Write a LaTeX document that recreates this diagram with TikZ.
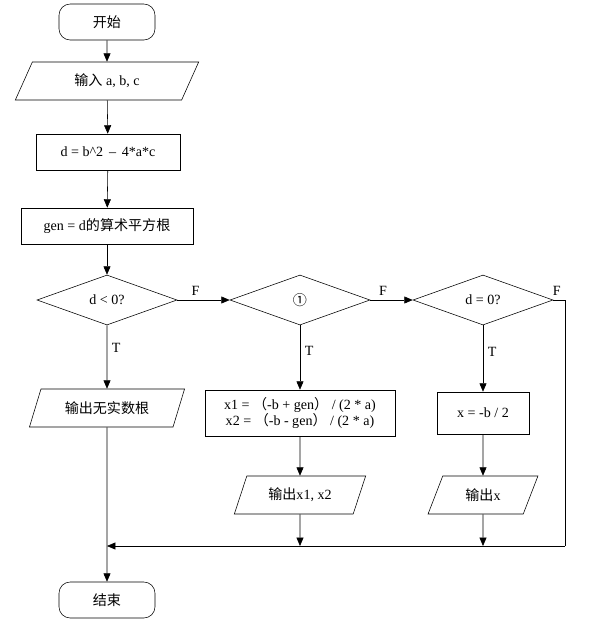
\documentclass[tikz,border=0pt]{standalone}
\usepackage{fontspec}
\setmainfont{Liberation Serif}
\newfontfamily\cjk{Noto Sans CJK SC}
\usetikzlibrary{shapes.geometric, arrows.meta}

\tikzset{
    term/.style={draw, rounded corners=8pt, minimum width=2.4cm, minimum height=0.9cm},
    io/.style={draw, trapezium, trapezium left angle=70, trapezium right angle=110,
        trapezium stretches=true, minimum height=0.95cm},
    proc/.style={draw, minimum height=0.9cm, inner sep=4pt},
    dec/.style={draw, diamond, aspect=2.8, minimum width=3.5cm, minimum height=1.25cm, inner sep=0pt},
    flow/.style={-{Triangle[length=6pt,width=5pt]}}
}

\begin{document}
\begin{tikzpicture}[x=0.025cm, y=-0.025cm, font=\normalsize]
    \useasboundingbox (0,0) rectangle (602,621);

    % Left column
    \node[term] (start) at (107,22) {\cjk 开始};
    \node[io, minimum width=4.6cm] (input) at (107,81) {{\cjk 输入} a, b, c};
    \node[proc, minimum width=3.6cm] (disc) at (108,152) {d = b\^{}2 \,--\, 4*a*c};
    \node[proc, minimum width=4.3cm] (root) at (107,226) {gen = d{\cjk 的算术平方根}};
    \node[dec] (neg) at (107,300) {d < 0?};
    \node[io, minimum width=3.9cm] (none) at (107,408) {\cjk 输出无实数根};
    \node[term] (stop) at (107,600) {\cjk 结束};

    % Middle column
    \node[dec] (mark) at (300,300) {\cjk ①};
    \node[proc, minimum width=4.75cm, minimum height=1.15cm, align=center] (two) at (300,413)
        {x1 = {\cjk （}-b + gen{\cjk ）} / (2 * a)\\ x2 = {\cjk （}-b - gen{\cjk ）} / (2 * a)};
    \node[io, minimum width=3.3cm] (outtwo) at (300,495) {{\cjk 输出}x1, x2};

    % Right column
    \node[dec] (zero) at (483,300) {d = 0?};
    \node[proc, minimum width=2.3cm, minimum height=1.05cm] (one) at (483,413) {x = -b / 2};
    \node[io, minimum width=2.75cm] (outone) at (483,495) {{\cjk 输出}x};

    % Merge points
    \coordinate (join) at (107,546);
    \coordinate (corner) at (565,300);

    % Connectors
    \draw[flow] (start) -- (input);
    \draw[flow] (input) -- (disc);
    \draw[flow] (disc) -- (root);
    \draw[flow] (root) -- (neg);
    \draw[flow] (neg) -- node[pos=0.35, right] {T} (none);
    \draw[flow] (neg) -- node[pos=0.35, above] {F} (mark);
    \draw[flow] (mark) -- node[pos=0.4, right] {T} (two);
    \draw[flow] (mark) -- node[pos=0.3, above] {F} (zero);
    \draw[flow] (zero) -- node[pos=0.4, right] {T} (one);
    \draw[flow] (two) -- (outtwo);
    \draw[flow] (one) -- (outone);
    \draw (zero.east) -- node[pos=0.3, above] {F} (corner) -- (corner |- join);
    \draw[flow] (corner |- join) -- (join);
    \draw[flow] (outtwo) -- (outtwo |- join);
    \draw[flow] (outone) -- (outone |- join);
    \draw[flow] (none) -- (stop);
\end{tikzpicture}
\end{document}
